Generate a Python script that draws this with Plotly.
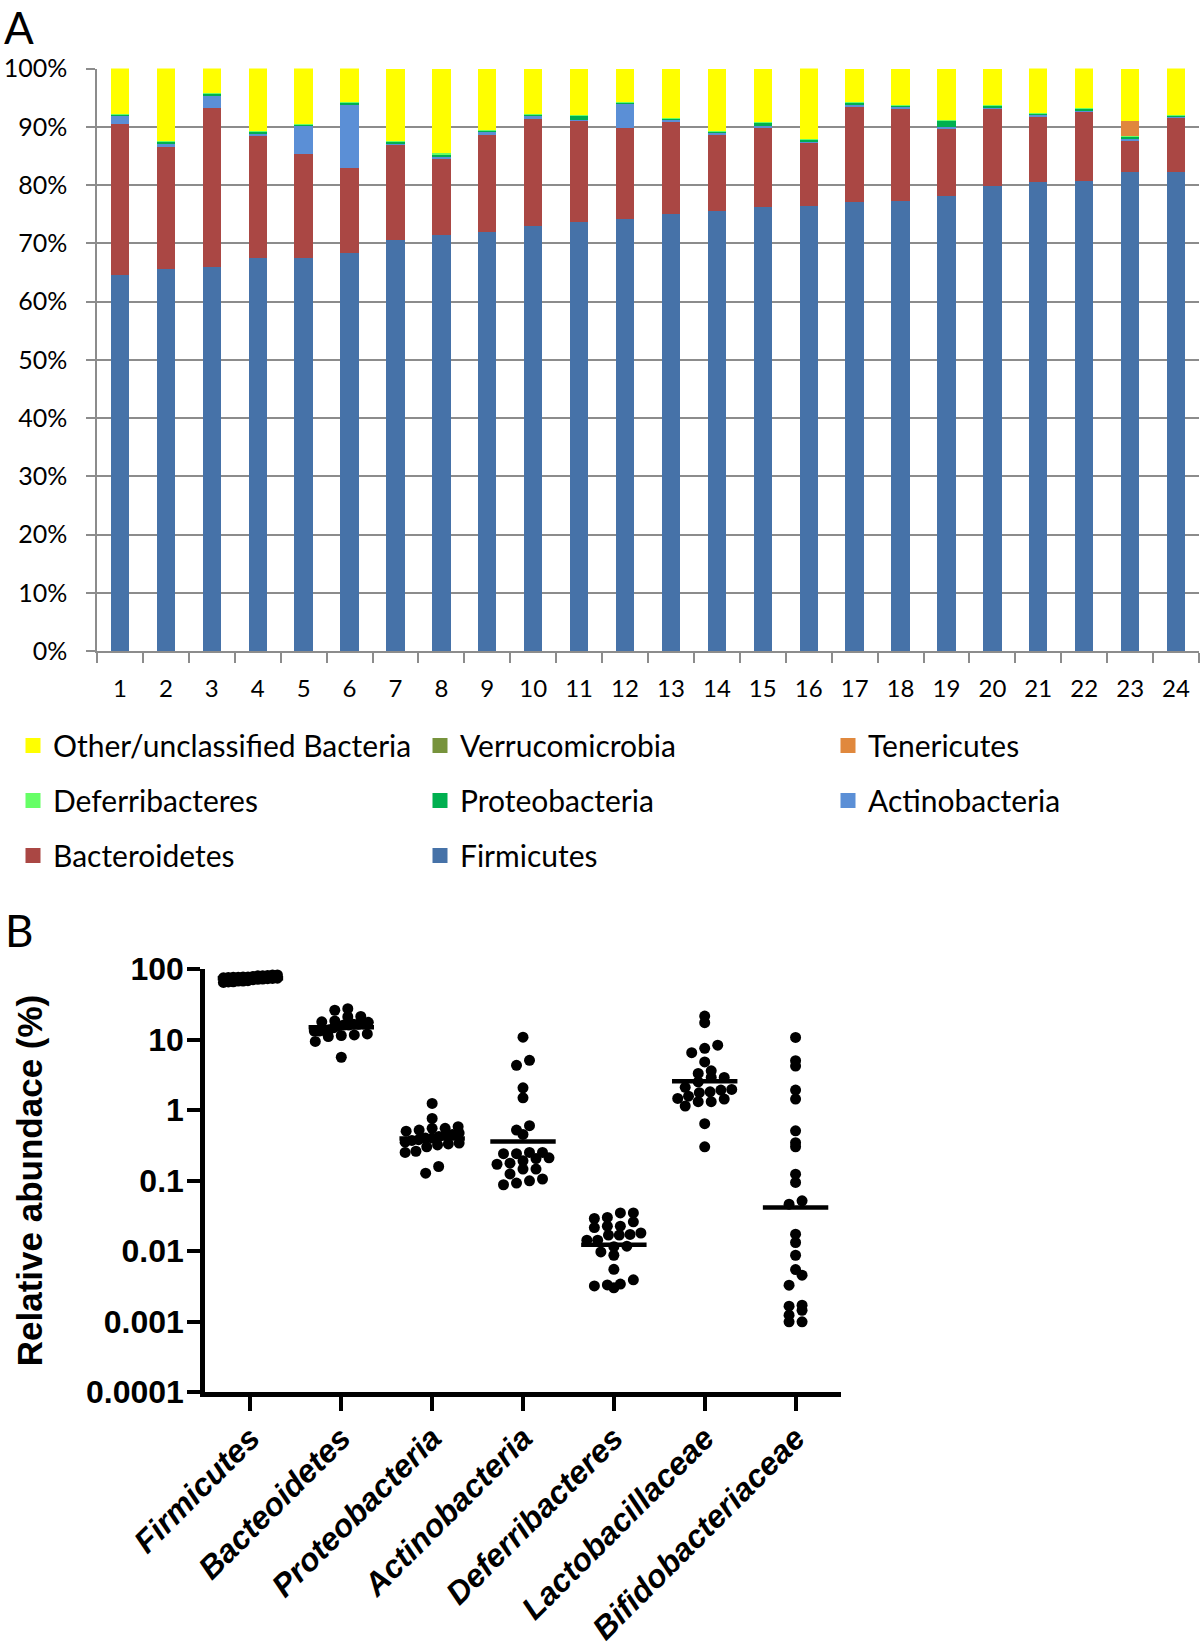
import numpy as np
import plotly.graph_objects as go

# ---------------- Panel A data (relative abundance, % per sample) ----------------
samples = [str(i) for i in range(1, 25)]

firmicutes = [64.5, 65.5, 65.9, 67.4, 67.5, 68.3, 70.6, 71.5, 71.9, 73.0, 73.6, 74.1,
              75.0, 75.5, 76.3, 76.4, 77.1, 77.3, 78.1, 79.9, 80.5, 80.7, 82.2, 82.2]
bacteroidetes = [26.0, 21.1, 27.4, 21.2, 17.8, 14.7, 16.4, 13.2, 16.6, 18.3, 17.5, 15.7,
                 16.0, 13.2, 13.7, 11.0, 16.4, 16.0, 11.6, 13.4, 11.4, 12.0, 5.6, 9.4]
actinobacteria = [1.49, 0.45, 2.06, 0.145, 5.07, 10.8, 0.087, 0.145, 0.60, 0.52, 0.124, 4.3,
                  0.105, 0.21, 0.205, 0.19, 0.25, 0.099, 0.24, 0.092, 0.24, 0.25, 0.176, 0.17]
proteobacteria = [0.25, 0.52, 0.45, 0.58, 0.158, 0.44, 0.42, 0.55, 0.40, 0.40, 0.76, 0.127,
                  0.38, 0.37, 0.55, 0.32, 0.50, 0.35, 1.24, 0.34, 0.30, 0.26, 0.47, 0.33]
deferribacteres = [0.0347, 0.0347, 0.0289, 0.0299, 0.0259, 0.0225, 0.0225, 0.0215, 0.0168, 0.0172,
                   0.0168, 0.0180, 0.0142, 0.0142, 0.0117, 0.0115, 0.0097, 0.0087, 0.0055, 0.0039,
                   0.0033, 0.0030, 0.0032, 0.0034]
tenericutes = [0, 0, 0, 0, 0, 0, 0, 0, 0, 0, 0, 0, 0, 0, 0, 0, 0, 0, 0, 0, 0, 0, 2.6, 0]
verrucomicrobia = [0, 0, 0, 0, 0, 0, 0, 0, 0, 0, 0, 0, 0, 0, 0, 0, 0, 0, 0, 0, 0, 0, 0, 0]
other_bacteria = [7.76, 12.43, 4.19, 10.65, 9.45, 5.74, 12.47, 14.58, 10.48, 7.76, 8.0, 5.75,
                  8.5, 10.7, 9.23, 12.08, 5.74, 6.24, 8.81, 6.26, 7.56, 6.79, 8.95, 7.9]

phyla_names = ["Firmicutes", "Bacteroidetes", "Actinobacteria", "Proteobacteria",
               "Deferribacteres", "Tenericutes", "Verrucomicrobia", "Other/unclassified Bacteria"]
phyla_values = [firmicutes, bacteroidetes, actinobacteria, proteobacteria,
                deferribacteres, tenericutes, verrucomicrobia, other_bacteria]
phyla_colors = ["#4672A8", "#AA4744", "#5B8FD6", "#00B050",
                "#66FF66", "#E0883D", "#77933C", "#FFFF00"]
legend_column = ["legend2", "legend", "legend3", "legend2",
                 "legend", "legend3", "legend2", "legend"]

# ---------------- Panel B data (relative abundance, %) ----------------
b_categories = ["Firmicutes", "Bacteoidetes", "Proteobacteria", "Actinobacteria",
                "Deferribacteres", "Lactobacillaceae", "Bifidobacteriaceae"]
lactobacillaceae = [21.5, 17.3, 7.5, 6.5, 8.3, 4.8, 3.3, 3.6, 2.9, 2.9, 2.5, 2.1,
                    1.92, 1.96, 1.81, 1.76, 1.57, 1.46, 1.31, 1.14, 1.31, 1.43, 0.64, 0.30]
bifidobacteriaceae = [10.7, 5.0, 4.2, 1.92, 1.43, 0.507, 0.343, 0.301, 0.123, 0.0938, 0.0515, 0.0461,
                      0.0173, 0.0132, 0.0087, 0.00546, 0.00454, 0.00327, 0.0017, 0.00165, 0.00144,
                      0.00123, 0.00099, 0.00099]
b_values = [firmicutes, bacteroidetes, proteobacteria, actinobacteria,
            deferribacteres, lactobacillaceae, bifidobacteriaceae]

# ---------------- Layout geometry ----------------
W, H = 1200, 1647
A_X = [97 / W, 1199 / W]
A_Y = [(H - 651) / H, (H - 68.5) / H]
B_LEFT, B_RIGHT, B_TOP, B_BOT = 205, 841, 969, 1392
B_X = [B_LEFT / W, B_RIGHT / W]
B_Y = [(H - B_BOT) / H, (H - B_TOP) / H]
B_RANGE_X = [-0.5, len(b_categories) - 0.5]
B_RANGE_Y = [-4, 2]
px_per_unit = (B_RIGHT - B_LEFT) / (B_RANGE_X[1] - B_RANGE_X[0])
px_per_decade = (B_BOT - B_TOP) / (B_RANGE_Y[1] - B_RANGE_Y[0])

FONT_A = "Lato, 'Open Sans', sans-serif"
FONT_B = "'Liberation Sans', Arial, sans-serif"


def swarm_offsets(vals, dot=11.0, step=13.0, max_half=27.0):
    ys = np.log10(np.asarray(vals, dtype=float)) * px_per_decade
    order = np.argsort(ys)
    bins = {}
    for i in order:
        bins.setdefault(int(np.floor(ys[i] / dot)), []).append(i)
    offs = np.zeros(len(vals))
    for idx in bins.values():
        n = len(idx)
        sp = step if n <= 1 else min(step, 2 * max_half / (n - 1))
        for k, i in enumerate(idx):
            offs[i] = (k - (n - 1) / 2) * sp
    return offs / px_per_unit


fig = go.Figure()

# Panel A stacked bars; legend shown by square-marker proxies (Excel-like larger swatches),
# legend order reversed w.r.t. stacking order, as in Excel
n_phyla = len(phyla_names)
for k, (name, vals, col, lg) in enumerate(zip(phyla_names, phyla_values, phyla_colors, legend_column)):
    fig.add_trace(go.Bar(
        x=samples, y=vals, name=name, marker=dict(color=col, line=dict(width=0)),
        xaxis="x", yaxis="y", legend=lg, legendgroup=name, showlegend=False,
    ))
    fig.add_trace(go.Scatter(
        x=[None], y=[None], mode="markers", name=name,
        marker=dict(symbol="square", size=15, color=col, line=dict(width=0)),
        xaxis="x", yaxis="y", legend=lg, legendgroup=name, legendrank=n_phyla - k,
        showlegend=True, hoverinfo="skip",
    ))

# Panel B scatter dots and geometric-mean lines
line_x, line_y = [], []
for i, vals in enumerate(b_values):
    offs = swarm_offsets(vals)
    fig.add_trace(go.Scatter(
        x=i + offs, y=vals, mode="markers",
        marker=dict(size=11, color="black", line=dict(width=0)),
        xaxis="x2", yaxis="y2", showlegend=False, hoverinfo="y",
    ))
    gm = 10 ** np.mean(np.log10(vals))
    line_x += [i - 0.36, i + 0.36, None]
    line_y += [gm, gm, None]
fig.add_trace(go.Scatter(
    x=line_x, y=line_y, mode="lines", line=dict(color="black", width=4.5),
    xaxis="x2", yaxis="y2", showlegend=False, hoverinfo="skip",
))

legend_common = dict(
    orientation="v", traceorder="grouped", tracegroupgap=13,
    font=dict(family=FONT_A, size=30, color="black"), bgcolor="rgba(0,0,0,0)",
    borderwidth=0, xanchor="left", yanchor="top", y=(H - 719.5) / H, itemclick=False,
    itemsizing="trace",
)

fig.update_layout(
    template="none",
    width=W, height=H, margin=dict(l=0, r=0, t=0, b=0, autoexpand=False),
    paper_bgcolor="white", plot_bgcolor="white",
    barmode="stack", bargap=0.6,
    font=dict(family=FONT_A, color="black"),
    xaxis=dict(
        domain=A_X, anchor="y", type="category", automargin=False,
        showline=True, linecolor="#8C8C8C", linewidth=1.5,
        ticks="outside", tickson="boundaries", ticklen=10, tickcolor="#8C8C8C", tickwidth=1.5,
        showgrid=False, zeroline=False, tickfont=dict(family=FONT_A, size=24, color="black"),
        ticklabelstandoff=15,
    ),
    yaxis=dict(
        domain=A_Y, anchor="x", range=[0, 100], dtick=10, ticksuffix="%", automargin=False,
        showline=True, linecolor="#8C8C8C", linewidth=1.5,
        ticks="outside", ticklen=9, tickcolor="#8C8C8C", tickwidth=1.5,
        showgrid=True, gridcolor="#8C8C8C", gridwidth=1.5, zeroline=False,
        tickfont=dict(family=FONT_A, size=25, color="black"), ticklabelstandoff=14,
    ),
    xaxis2=dict(
        domain=B_X, anchor="y2", range=B_RANGE_X, automargin=False,
        tickvals=list(range(len(b_categories))), ticktext=b_categories,
        showline=True, linecolor="black", linewidth=4.5,
        ticks="outside", ticklen=14, tickcolor="black", tickwidth=4,
        showgrid=False, zeroline=False, tickangle=-45, ticklabelstandoff=-4,
        tickfont=dict(family=FONT_B, size=32, color="black", weight="bold", style="italic"),
    ),
    yaxis2=dict(
        domain=B_Y, anchor="x2", type="log", range=B_RANGE_Y, automargin=False,
        tickvals=[0.0001, 0.001, 0.01, 0.1, 1, 10, 100],
        ticktext=["0.0001", "0.001", "0.01", "0.1", "1", "10", "100"],
        showline=True, linecolor="black", linewidth=4.5,
        ticks="outside", ticklen=13, tickcolor="black", tickwidth=4,
        showgrid=False, zeroline=False, ticklabelstandoff=-3,
        tickfont=dict(family=FONT_B, size=32, color="black", weight="bold"),
        title=dict(text="Relative abundace (%)", standoff=34,
                   font=dict(family=FONT_B, size=35, color="black", weight="bold")),
    ),
    legend=dict(legend_common, x=13 / W),
    legend2=dict(legend_common, x=420 / W),
    legend3=dict(legend_common, x=828 / W),
    annotations=[
        dict(text="A", x=3 / W, y=1, xref="paper", yref="paper", borderpad=0,
             xanchor="left", yanchor="top", showarrow=False,
             font=dict(family=FONT_A, size=44, color="black")),
        dict(text="B", x=3 / W, y=(H - 930) / H, xref="paper", yref="paper",
             xanchor="left", yanchor="middle", showarrow=False,
             font=dict(family=FONT_A, size=44, color="black")),
    ],
)

fig.write_html(
    "out.html",
    config={"displayModeBar": False},
    post_script="document.body.style.margin='0';document.body.style.overflow='hidden';",
)
